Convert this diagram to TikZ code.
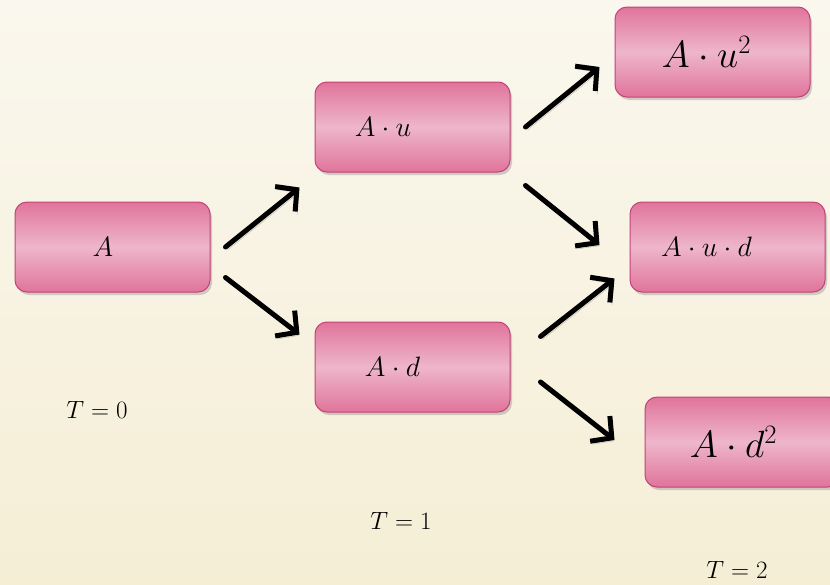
\RequirePackage{fix-cm}
\documentclass[tikz,border=0pt]{standalone}
\usetikzlibrary{positioning,arrows.meta,shadows}

\definecolor{boxedge}{RGB}{224,116,154}
\definecolor{boxmid}{RGB}{238,182,202}
\definecolor{boxline}{RGB}{196,66,122}
\definecolor{bgtop}{RGB}{250,247,238}
\definecolor{bgbot}{RGB}{245,238,213}

\tikzset{
  state/.style={draw=boxline, line width=1pt, rounded corners=12pt,
    minimum width=195pt, minimum height=90pt,
    top color=boxedge, bottom color=boxedge, middle color=boxmid,
    drop shadow={shadow xshift=2pt, shadow yshift=-3pt, opacity=0.35},
    font=\fontsize{28}{32}\selectfont},
  big/.style={font=\fontsize{38}{42}\selectfont},
  lean/.style={execute at end node={\hspace*{#1}}},
  move/.style={line width=5pt, line cap=round, -{Straight Barb[length=15pt,width=32pt]},
    preaction={draw=black, opacity=0.25, transform canvas={shift={(2pt,-3pt)}}}},
  stamp/.style={font=\fontsize{25}{28}\selectfont}
}

\begin{document}
\begin{tikzpicture}[x=1pt,y=1pt]
\shade[top color=bgtop,bottom color=bgbot] (0,0) rectangle (830,-584);
\useasboundingbox (0,0) rectangle (830,-584);

% T = 0
\node[state,lean=19pt] (A) at (112.5,-247) {$A$};
% T = 1
\node[state,lean=59pt] (Au) at (412.5,-127) {$A\cdot u$};
\node[state,lean=40pt] (Ad) at (412.5,-367) {$A\cdot d$};
% T = 2
\node[state,big,lean=12pt] (Auu) at (712.5,-52) {$A\cdot u^2$};
\node[state,lean=42pt] (Aud) at (727.5,-247) {$A\cdot u\cdot d$};
\node[state,big,lean=18pt] (Add) at (742.5,-442) {$A\cdot d^2$};

\draw[move] ([shift={(15,0)}]A.east) -- ([shift={(-15,-15)}]Au.south west);
\draw[move] ([shift={(15,15)}]A.south east) -- ([shift={(-15,-13)}]Ad.north west);
\draw[move] ([shift={(15,0)}]Au.east) -- ([shift={(-15,-15)}]Auu.west);
\draw[move] ([shift={(15,-13)}]Au.south east) -- ([shift={(-30,2)}]Aud.west);
\draw[move] ([shift={(30,-15)}]Ad.north east) -- ([shift={(-15,14)}]Aud.south west);
\draw[move] ([shift={(30,-15)}]Ad.east) -- ([shift={(-30,2)}]Add.west);

\node[stamp] (t0) at (97,-410) {$T=0$};
\node[stamp] (t1) at (401,-521) {$T=1$};
\node[stamp] (t2) at (737,-570) {$T=2$};
\end{tikzpicture}
\end{document}
